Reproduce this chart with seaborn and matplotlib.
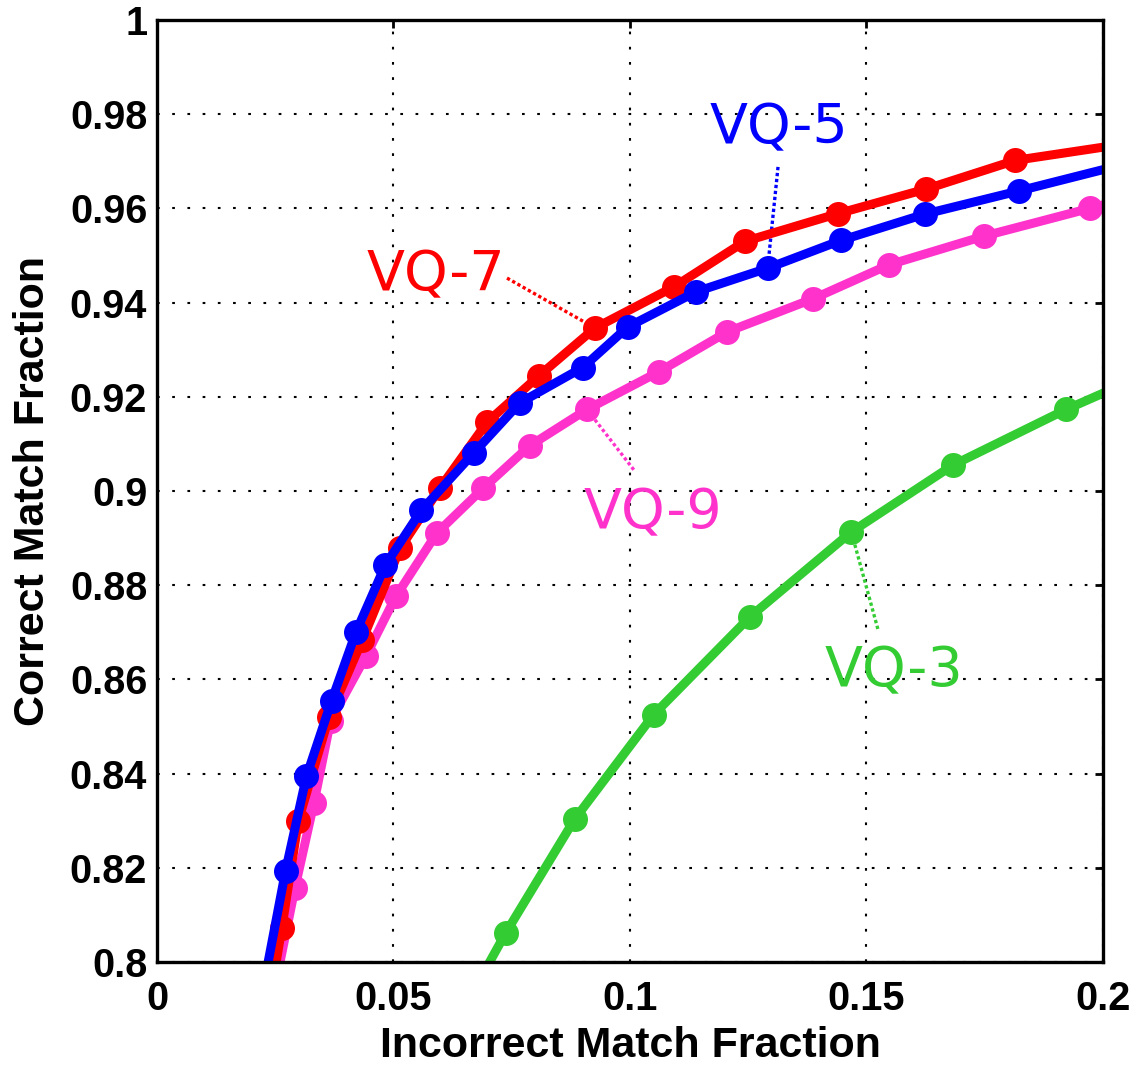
import numpy as np
import pandas as pd
import seaborn as sns
import matplotlib
matplotlib.use("Agg")
import matplotlib.pyplot as plt

# -------------------------
# data
# (first / last points sit outside the view so the lines run to the frame)
# -------------------------
vq7_x = [0.0219, 0.0264, 0.0299, 0.0364, 0.0434, 0.0514, 0.0598, 0.0698, 0.0807, 0.0926,
         0.1094, 0.1243, 0.1440, 0.1626, 0.1815, 0.22]
vq7_y = [0.78, 0.8072, 0.8300, 0.8521, 0.8683, 0.8878, 0.9006, 0.9146, 0.9244, 0.9346,
         0.9434, 0.9530, 0.9589, 0.9641, 0.9702, 0.976]

vq5_x = [0.0197, 0.0272, 0.0316, 0.0369, 0.0421, 0.0483, 0.0559, 0.0670, 0.0767, 0.0900,
         0.0995, 0.1140, 0.1291, 0.1446, 0.1624, 0.1822, 0.22]
vq5_y = [0.78, 0.8194, 0.8394, 0.8554, 0.8701, 0.8843, 0.8959, 0.9081, 0.9187, 0.9262,
         0.9348, 0.9423, 0.9473, 0.9532, 0.9588, 0.9637, 0.9733]

vq9_x = [0.0220, 0.0292, 0.0332, 0.0367, 0.0442, 0.0505, 0.0592, 0.0690, 0.0788, 0.0909,
         0.1061, 0.1206, 0.1387, 0.1547, 0.1748, 0.1972, 0.22]
vq9_y = [0.78, 0.8158, 0.8338, 0.8512, 0.8650, 0.8776, 0.8911, 0.9006, 0.9096, 0.9173,
         0.9253, 0.9338, 0.9408, 0.9480, 0.9541, 0.9600, 0.966]

vq3_x = [0.0593, 0.0737, 0.0883, 0.1050, 0.1254, 0.1468, 0.1683, 0.1922, 0.215]
vq3_y = [0.78, 0.8061, 0.8303, 0.8525, 0.8733, 0.8913, 0.9055, 0.9173, 0.9274]

# label text, label anchor (left, baseline), leader start, leader end
labels = ["VQ-7", "VQ-5", "VQ-9", "VQ-3"]
label_pos = [(0.0444, 0.9427), (0.1169, 0.9739), (0.0901, 0.8921), (0.1412, 0.8586)]
leader_from = [(0.0740, 0.9452), (0.1313, 0.9688), (0.1008, 0.9045), (0.1524, 0.8707)]
leader_to = [(0.0926, 0.9346), (0.1291, 0.9473), (0.0909, 0.9173), (0.1468, 0.8913)]

x_ticks = [0, 0.05, 0.1, 0.15, 0.2]
y_ticks = [0.8, 0.82, 0.84, 0.86, 0.88, 0.9, 0.92, 0.94, 0.96, 0.98, 1.0]

RED = "#ff0000"
BLUE = "#0000ff"
PINK = "#ff33cc"
GREEN = "#33cc33"

sns.set_style("white")
plt.rcParams["font.family"] = ["Liberation Sans", "DejaVu Sans"]
plt.rcParams["text.color"] = "black"
plt.rcParams["axes.labelcolor"] = "black"

fig = plt.figure(figsize=(11.35, 10.68), dpi=100)
ax = fig.add_axes([0.1383, 0.0993, 0.8335, 0.882])

# draw order: green, pink, red, blue (blue on top)
series = [(vq3_x, vq3_y, GREEN), (vq9_x, vq9_y, PINK),
          (vq7_x, vq7_y, RED), (vq5_x, vq5_y, BLUE)]
for xs, ys, col in series:
    df = pd.DataFrame({"x": xs, "y": ys})
    sns.lineplot(data=df, x="x", y="y", sort=False, estimator=None, ax=ax,
                 color=col, linewidth=6.5, marker="o", markersize=18,
                 markeredgewidth=0, markerfacecolor=col, clip_on=True)

# annotations with dotted leaders
label_cols = [RED, BLUE, PINK, GREEN]
for txt, pos, p0, p1, col in zip(labels, label_pos, leader_from, leader_to, label_cols):
    ax.plot([p0[0], p1[0]], [p0[1], p1[1]], color=col, linewidth=2.4,
            linestyle=(0, (1.0, 0.8)), zorder=1.5)
    ax.text(pos[0], pos[1], txt, color=col, fontsize=40, ha="left", va="baseline",
            family="DejaVu Sans", zorder=5)

ax.set_xlim(0, 0.2)
ax.set_ylim(0.8, 1.0)
ax.set_xticks(x_ticks)
ax.set_yticks(y_ticks)
ax.set_xticklabels([f"{v:g}" for v in x_ticks])
ax.set_yticklabels([f"{v:g}" for v in y_ticks])

ax.grid(True, color="black", linestyle=(0, (1.3, 6)), linewidth=1.5)
ax.set_axisbelow(True)
for s in ax.spines.values():
    s.set_visible(True)
    s.set_color("black")
    s.set_linewidth(2.4)

ax.tick_params(axis="both", direction="in", length=6, width=2, colors="black",
               top=True, right=True, labelsize=28.5)
ax.tick_params(axis="x", pad=13)
ax.tick_params(axis="y", pad=7)
for lab in ax.get_xticklabels() + ax.get_yticklabels():
    lab.set_fontweight("bold")

ax.set_xlabel("Incorrect Match Fraction", fontsize=31, fontweight="bold",
              color="black", labelpad=6)
ax.set_ylabel("Correct Match Fraction", fontsize=31, fontweight="bold",
              color="black", labelpad=12)

fig.savefig("out.png", dpi=100)
